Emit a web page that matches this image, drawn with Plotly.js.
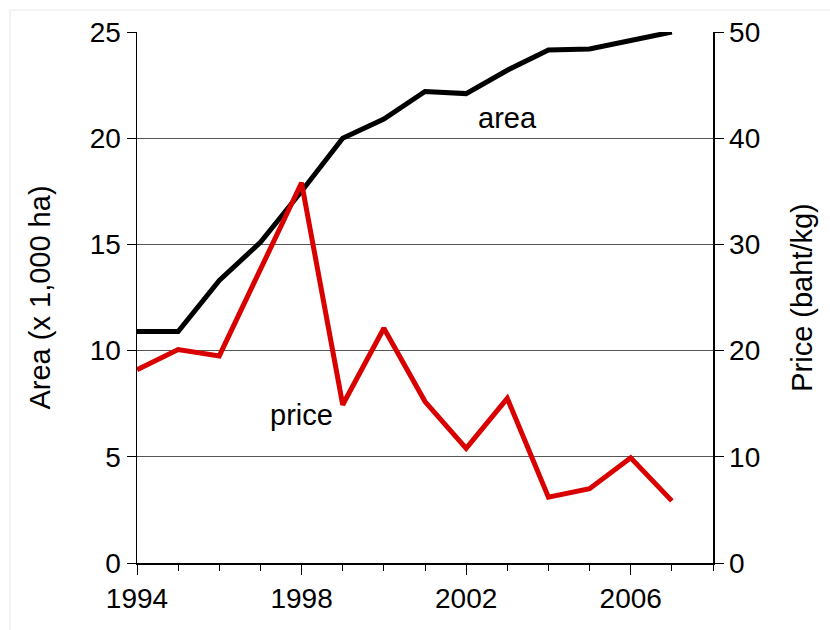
<!DOCTYPE html>
<html>
<head>
<meta charset="utf-8">
<script src="https://cdn.plot.ly/plotly-3.0.1.min.js"></script>
<style>html,body{margin:0;padding:0;background:#fff;}#chart{width:830px;height:630px;}</style>
</head>
<body>
<div id="chart"></div>
<script>
const years = [1994,1995,1996,1997,1998,1999,2000,2001,2002,2003,2004,2005,2006,2007];
const area  = [10.9,10.9,13.3,15.1,17.5,20.0,20.9,22.2,22.1,23.2,24.15,24.2,24.6,25.0];
const price = [18.2,20.1,19.5,27.7,35.8,14.9,22.1,15.2,10.8,15.5,6.2,7.0,9.9,5.85];
const xTicks = [1994,1998,2002,2006];
const areaLabel = "area";
const priceLabel = "price";

const F = "Liberation Sans, Arial, sans-serif";

const traces = [
  {x: years, y: area, type: 'scatter', mode: 'lines', name: 'area',
   line: {color: '#000000', width: 5}, yaxis: 'y', cliponaxis: false},
  {x: years, y: price, type: 'scatter', mode: 'lines', name: 'price',
   line: {color: '#d90000', width: 5}, yaxis: 'y2', cliponaxis: false}
];

const layout = {
  width: 830, height: 630,
  margin: {l: 137, r: 117, t: 32, b: 67, pad: 0},
  paper_bgcolor: '#ffffff', plot_bgcolor: '#ffffff',
  showlegend: false,
  font: {family: F, size: 28, color: '#000'},
  xaxis: {
    range: [1994, 2008], tickvals: xTicks, ticktext: xTicks.map(String),
    ticks: 'outside', ticklen: 10, tickwidth: 1, tickcolor: '#000',
    minor: {dtick: 1, tick0: 1994, ticks: 'outside', ticklen: 6, tickcolor: '#000', tickwidth: 1, showgrid: false},
    showline: true, linecolor: '#000', linewidth: 1.5,
    showgrid: false, zeroline: false, fixedrange: true,
    tickfont: {family: F, size: 28}
  },
  yaxis: {
    range: [0, 25], dtick: 5, tick0: 0,
    ticks: 'outside', ticklen: 9, tickwidth: 1, tickcolor: '#000',
    showline: true, linecolor: '#000', linewidth: 1.5,
    showgrid: true, gridcolor: '#555', gridwidth: 1,
    zeroline: false,
    title: {text: 'Area (x 1,000 ha)', font: {family: F, size: 29}, standoff: 30},
    tickfont: {family: F, size: 28}
  },
  yaxis2: {
    range: [0, 50], dtick: 10, tick0: 0, overlaying: 'y', side: 'right',
    ticks: 'outside', ticklen: 9, tickwidth: 1, tickcolor: '#000',
    showline: true, linecolor: '#000', linewidth: 1.5,
    showgrid: false, zeroline: false,
    title: {text: 'Price (baht/kg)', font: {family: F, size: 29}, standoff: 32},
    tickfont: {family: F, size: 28}
  },
  annotations: [
    {x: 2003.0, y: 20.95, xref: 'x', yref: 'y', text: areaLabel, showarrow: false,
     font: {family: F, size: 29, color: '#000'}},
    {x: 1998.0, y: 6.97, xref: 'x', yref: 'y', text: priceLabel, showarrow: false,
     font: {family: F, size: 29, color: '#000'}}
  ],
  shapes: [
    {type: 'line', xref: 'paper', yref: 'paper', x0: -0.2205, x1: -0.2205, y0: 1.0414, y1: -0.2, layer: 'below',
     line: {color: '#e8e8e8', width: 1}},
    {type: 'line', xref: 'paper', yref: 'paper', x0: -0.2205, x1: 1.25, y0: 1.0414, y1: 1.0414, layer: 'below',
     line: {color: '#e8e8e8', width: 1}}
  ]
};

Plotly.newPlot('chart', traces, layout, {displayModeBar: false, staticPlot: true});
</script>
</body>
</html>
